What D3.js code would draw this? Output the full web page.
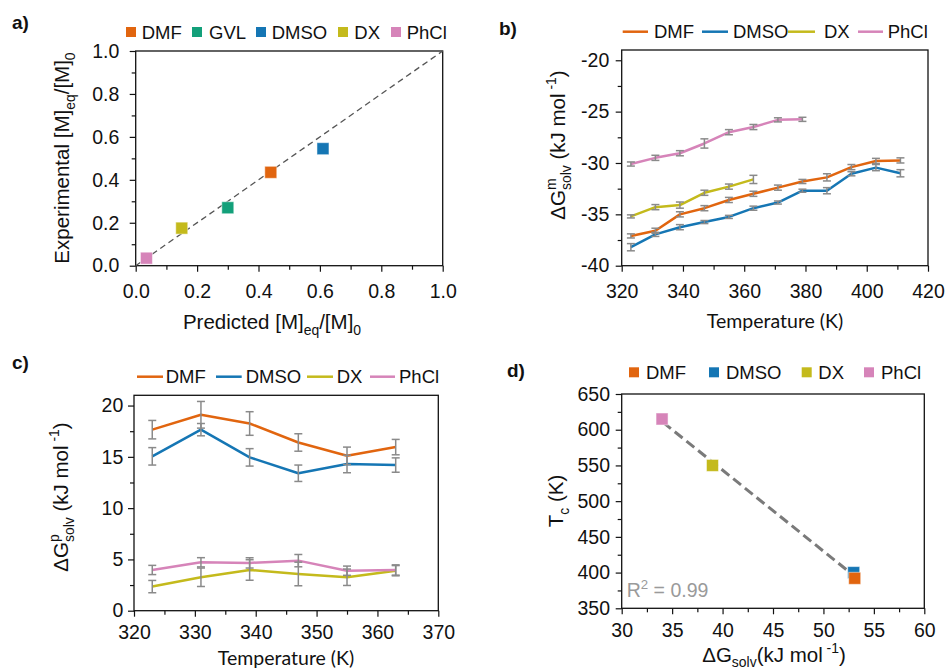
<!DOCTYPE html>
<html><head><meta charset="utf-8">
<script src="https://cdn.jsdelivr.net/npm/d3@7/dist/d3.min.js"></script>
<style>
html,body{margin:0;padding:0;background:#fff;}
svg text{white-space:pre;}
</style>
</head><body>
<svg id="chart" width="946" height="671"></svg>
<script>
// ---------------- DATA ----------------
const colors = {DMF:"#E1650F", GVL:"#13A07A", DMSO:"#1576B4", DX:"#C4BA1C", PhCl:"#D684B9"};

// Panel a
const aNames = ["DMF","GVL","DMSO","DX","PhCl"];
const aPredicted = [0.44, 0.30, 0.61, 0.15, 0.035];
const aExperimental = [0.435, 0.27, 0.545, 0.175, 0.035];
const aTicks = [0,0.2,0.4,0.6,0.8,1.0];
const aMinor = [0.1,0.3,0.5,0.7,0.9];

// Panel b
const bTempLong = [323,331,339,347,355,363,371,379,387,395,403,411];
const bDMF    = [-37.1,-36.6,-35.0,-34.4,-33.6,-33.0,-32.4,-31.8,-31.4,-30.4,-29.8,-29.75];
const bDMFerr = [0.2,0.25,0.25,0.25,0.25,0.25,0.25,0.2,0.35,0.25,0.25,0.25];
const bDMSO    = [-38.2,-36.95,-36.25,-35.75,-35.25,-34.4,-33.85,-32.7,-32.7,-31.05,-30.45,-31.0];
const bDMSOerr = [0.35,0.2,0.25,0.15,0.15,0.2,0.15,0.15,0.3,0.2,0.3,0.35];
const bTempDX = [323,331,339,347,355,363];
const bDX    = [-35.2,-34.3,-34.1,-32.9,-32.3,-31.6];
const bDXerr = [0.15,0.25,0.3,0.25,0.25,0.4];
const bTempPhCl = [323,331,339,347,355,363,371,379];
const bPhCl    = [-30.1,-29.5,-29.05,-28.1,-27.0,-26.5,-25.8,-25.75];
const bPhClerr = [0.2,0.25,0.25,0.45,0.25,0.25,0.2,0.2];
const bXTicks = [320,340,360,380,400,420];
const bXMinor = [330,350,370,390,410];
const bYTicks = [-40,-35,-30,-25,-20];
const bYMinor = [-37.5,-32.5,-27.5,-22.5];

// Panel c
const cTemp = [323,331,339,347,355,363];
const cDMF    = [17.65,19.1,18.25,16.4,15.1,15.95];
const cDMFerr = [0.9,1.3,1.15,0.85,0.85,0.75];
const cDMSO    = [15.05,17.65,14.95,13.4,14.3,14.2];
const cDMSOerr = [0.85,0.6,0.85,0.8,0.85,0.7];
const cDX    = [2.35,3.26,3.97,3.58,3.26,3.9];
const cDXerr = [0.6,0.9,1.0,1.15,0.8,0.5];
const cPhCl    = [3.97,4.72,4.66,4.88,3.9,3.97];
const cPhClerr = [0.45,0.45,0.5,0.6,0.45,0.5];
const cXTicks = [320,330,340,350,360,370];
const cXMinor = [325,335,345,355,365];
const cYTicks = [0,5,10,15,20];
const cYMinor = [2.5,7.5,12.5,17.5];

// Panel d
const dNames = ["DMSO","DMF","DX","PhCl"];
const dGsolv = [53.0, 53.1, 39.0, 34.0];
const dTc = [400, 392, 550, 615];
const dR2 = "0.99";
const dXTicks = [30,35,40,45,50,55,60];
const dXMinor = [32.5,37.5,42.5,47.5,52.5,57.5];
const dYTicks = [350,400,450,500,550,600,650];
const dYMinor = [375,425,475,525,575,625];

// ---------------- LAYOUT ----------------
const FONT = "'Liberation Sans', Arial, sans-serif";
const FONT2 = "Lato, 'Open Sans', sans-serif";
const TICK_FS = 19.5, LEG_FS = 18.5, TITLE_FS = 20.5;
const svg = d3.select("#chart");

function panel(o){
  const x = d3.scaleLinear().domain(o.xd).range([o.l,o.r]);
  const y = d3.scaleLinear().domain(o.yd).range([o.b,o.t]);
  const g = svg.append("g");
  const styleAxis = s => {
    s.selectAll("text").attr("font-size",TICK_FS).attr("font-family",FONT).attr("fill","#111");
    s.selectAll("line").attr("stroke","#111").attr("stroke-width",1.2);
    s.select(".domain").remove();
  };
  g.append("g").attr("transform",`translate(0,${o.b})`)
    .call(d3.axisBottom(x).tickValues(o.xminor).tickSize(4).tickFormat("")).call(styleAxis);
  g.append("g").attr("transform",`translate(${o.l},0)`)
    .call(d3.axisLeft(y).tickValues(o.yminor).tickSize(4).tickFormat("")).call(styleAxis);
  g.append("g").attr("transform",`translate(0,${o.b})`)
    .call(d3.axisBottom(x).tickValues(o.xt).tickSize(6).tickPadding(o.xpad).tickFormat(o.xf)).call(styleAxis);
  g.append("g").attr("transform",`translate(${o.l},0)`)
    .call(d3.axisLeft(y).tickValues(o.yt).tickSize(6).tickPadding(o.ypad).tickFormat(o.yf)).call(styleAxis);
  g.append("rect").attr("x",o.l).attr("y",o.t).attr("width",o.r-o.l).attr("height",o.b-o.t)
    .attr("fill","none").attr("stroke","#111").attr("stroke-width",1.3);
  const plot = svg.append("g");
  return {x,y,g,plot};
}

function rich(parts, x, y, size, opts={}){
  const rot = opts.rotate||0, color = opts.color||"#111", family = opts.family||FONT, anchor = opts.anchor||"middle";
  const g = svg.append("g").attr("transform",`translate(${x},${y}) rotate(${rot})`);
  let cx = 0, prevStart = 0;
  parts.forEach(p=>{
    const fs = size*(p.s||1);
    const start = p.stack ? prevStart : cx;
    const t = g.append("text").attr("x",start).attr("y",(p.dy||0)*size)
      .attr("font-size",fs).attr("font-family",family).attr("fill",color).text(p.t);
    const w = t.node().getComputedTextLength();
    if(p.stack){ cx = Math.max(cx,start+w); } else { prevStart = start; cx = start+w; }
  });
  const off = anchor==="middle" ? cx/2 : 0;
  g.selectAll("text").attr("x",function(){return +this.getAttribute("x")-off;});
  return g;
}
const SUB = {s:0.68, dy:0.3}, SUP = {s:0.68, dy:-0.42};

function squareLegend(items, y){
  items.forEach(([name,sx,tx])=>{
    svg.append("rect").attr("x",sx).attr("y",y-5).attr("width",10).attr("height",10).attr("fill",colors[name]);
    svg.append("text").attr("x",tx).attr("y",y+6.6).attr("font-size",LEG_FS).attr("font-family",FONT).attr("fill","#111").text(name);
  });
}
function lineLegend(items, y){
  items.forEach(([name,x1,x2,tx])=>{
    svg.append("line").attr("x1",x1).attr("x2",x2).attr("y1",y).attr("y2",y).attr("stroke",colors[name]).attr("stroke-width",2.5);
    svg.append("text").attr("x",tx).attr("y",y+6.6).attr("font-size",LEG_FS).attr("font-family",FONT).attr("fill","#111").text(name);
  });
}
function label(t,x,y){
  svg.append("text").attr("x",x).attr("y",y).attr("font-size",19).attr("font-weight","bold").attr("font-family",FONT).attr("fill","#111").text(t);
}
function series(P, xs, ys, errs, name){
  const line = d3.line().x((d,i)=>P.x(xs[i])).y(d=>P.y(d));
  P.plot.append("path").datum(ys).attr("d",line).attr("fill","none").attr("stroke",colors[name]).attr("stroke-width",2.5).attr("stroke-linejoin","round");
  return ()=>{
    ys.forEach((v,i)=>{
      const cx = P.x(xs[i]), y1 = P.y(v-errs[i]), y2 = P.y(v+errs[i]);
      const eg = P.plot.append("g").attr("stroke","#8a8a8a").attr("stroke-width",1.5);
      eg.append("line").attr("x1",cx).attr("x2",cx).attr("y1",y1).attr("y2",y2);
      eg.append("line").attr("x1",cx-4).attr("x2",cx+4).attr("y1",y1).attr("y2",y1);
      eg.append("line").attr("x1",cx-4).attr("x2",cx+4).attr("y1",y2).attr("y2",y2);
    });
  };
}

// ---------------- PANEL A ----------------
const A = panel({l:135.7,r:442.7,t:51,b:265.7,xd:[0,1],yd:[0,1],xt:aTicks,xminor:aMinor,yt:aTicks,yminor:aMinor,
  xpad:12,ypad:10.4,xf:d=>d.toFixed(1),yf:d=>d.toFixed(1)});
A.plot.append("line").attr("x1",A.x(0)).attr("y1",A.y(0)).attr("x2",A.x(1)).attr("y2",A.y(1))
  .attr("stroke","#555").attr("stroke-width",1.3).attr("stroke-dasharray","6,4");
aNames.forEach((n,i)=>{
  A.plot.append("rect").attr("x",A.x(aPredicted[i])-6).attr("y",A.y(aExperimental[i])-6)
    .attr("width",12).attr("height",12).attr("fill",colors[n]).attr("stroke","#fff").attr("stroke-opacity",0.5).attr("stroke-width",1);
});
squareLegend([["DMF",126,141.7],["GVL",192,209],["DMSO",256,271.7],["DX",338,354.3],["PhCl",391,406.7]], 32);
rich([{t:"Experimental [M]"},{t:"eq",...SUB},{t:"/[M]"},{t:"0",...SUB}], 69, 158, TITLE_FS, {rotate:-90});
rich([{t:"Predicted [M]"},{t:"eq",...SUB},{t:"/[M]"},{t:"0",...SUB}], 272, 329, TITLE_FS);
label("a)",12,29);

// ---------------- PANEL B ----------------
const B = panel({l:621.7,r:928,t:50,b:265.7,xd:[320,420],yd:[-40,-19],xt:bXTicks,xminor:bXMinor,yt:bYTicks,yminor:bYMinor,
  xpad:12.8,ypad:6.4,xf:d=>String(d),yf:d=>String(d)});
const eb = [
  series(B,bTempLong,bDMF,bDMFerr,"DMF"),
  series(B,bTempLong,bDMSO,bDMSOerr,"DMSO"),
  series(B,bTempDX,bDX,bDXerr,"DX"),
  series(B,bTempPhCl,bPhCl,bPhClerr,"PhCl")];
eb.forEach(f=>f());
lineLegend([["DMF",622.7,648,654],["DMSO",702,728,733],["DX",788,815,824],["PhCl",858,883,887.7]], 31.7);
rich([{t:"ΔG"},{t:"m",...SUP},{t:"solv",...SUB,stack:true},{t:" (kJ mol"},{t:" -1",...SUP},{t:")"}], 565, 145, TITLE_FS, {rotate:-90});
rich([{t:"Temperature (K)"}], 775, 328, 19.5, {family:FONT2});
label("b)",499,35);

// ---------------- PANEL C ----------------
const C = panel({l:134,r:438.3,t:395.3,b:610.7,xd:[320,370],yd:[0,21],xt:cXTicks,xminor:cXMinor,yt:cYTicks,yminor:cYMinor,
  xpad:8,ypad:4.7,xf:d=>String(d),yf:d=>String(d)});
const ec = [
  series(C,cTemp,cDMF,cDMFerr,"DMF"),
  series(C,cTemp,cDMSO,cDMSOerr,"DMSO"),
  series(C,cTemp,cDX,cDXerr,"DX"),
  series(C,cTemp,cPhCl,cPhClerr,"PhCl")];
ec.forEach(f=>f());
lineLegend([["DMF",137,163,165.7],["DMSO",216,241.7,245.7],["DX",307,333,336.7],["PhCl",370,395,399]], 376.7);
rich([{t:"ΔG"},{t:"p",...SUP},{t:"solv",...SUB,stack:true},{t:" (kJ mol"},{t:" -1",...SUP},{t:")"}], 68, 497, TITLE_FS, {rotate:-90});
rich([{t:"Temperature (K)"}], 286, 665, 19.5, {family:FONT2});
label("c)",12,369);

// ---------------- PANEL D ----------------
const D = panel({l:621.7,r:924.3,t:394,b:608.3,xd:[30,60],yd:[350,650],xt:dXTicks,xminor:dXMinor,yt:dYTicks,yminor:dYMinor,
  xpad:8.5,ypad:5.7,xf:d=>String(d),yf:d=>String(d)});
// least-squares fit through the points
const mx = d3.mean(dGsolv), my = d3.mean(dTc);
const slope = d3.sum(dGsolv.map((v,i)=>(v-mx)*(dTc[i]-my))) / d3.sum(dGsolv.map(v=>(v-mx)*(v-mx)));
const icpt = my - slope*mx;
const fx0 = d3.min(dGsolv)+0.1, fx1 = 53.0;
D.plot.append("line").attr("x1",D.x(fx0)).attr("y1",D.y(icpt+slope*fx0)).attr("x2",D.x(fx1)).attr("y2",D.y(icpt+slope*fx1))
  .attr("stroke","#7a7a7a").attr("stroke-width",3).attr("stroke-dasharray","10,5");
dNames.forEach((n,i)=>{
  D.plot.append("rect").attr("x",D.x(dGsolv[i])-6).attr("y",D.y(dTc[i])-6)
    .attr("width",12).attr("height",12).attr("fill",colors[n]).attr("stroke","#fff").attr("stroke-opacity",0.5).attr("stroke-width",1);
});
rich([{t:"R"},{t:"2",...SUP},{t:" = "+dR2}], 626.7, 597, 19.5, {anchor:"start", color:"#9a9a9a"});
squareLegend([["DMF",629,646],["DMSO",709,726],["DX",801.7,818.3],["PhCl",864,881]], 372.3);
rich([{t:"T"},{t:"c",...SUB},{t:" (K)"}], 563, 501, TITLE_FS, {rotate:-90});
rich([{t:"ΔG"},{t:"solv",s:0.68,dy:0.22},{t:"(kJ mol"},{t:" -1",...SUP},{t:")"}], 774, 662, TITLE_FS);
label("d)",507,377);
</script>
</body></html>
